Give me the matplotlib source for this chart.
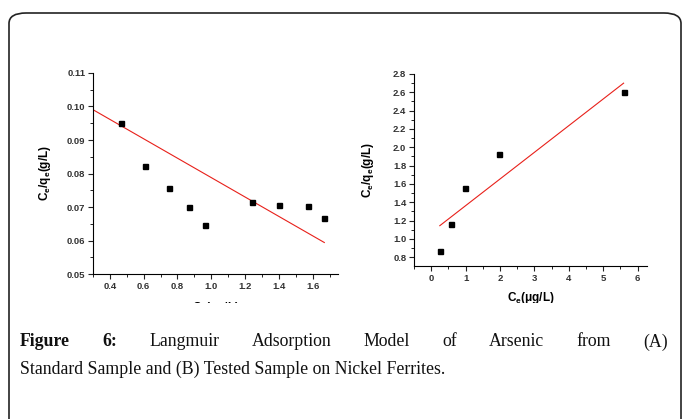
import numpy as np
import matplotlib
matplotlib.use('Agg')
import matplotlib.pyplot as plt
from matplotlib.patches import FancyBboxPatch, Rectangle
from matplotlib.ticker import MultipleLocator, FormatStrFormatter

# (A) standard sample
ce_a = [0.465, 0.608, 0.75, 0.869, 0.96, 1.24, 1.40, 1.574, 1.665]
ceqe_a = [0.0951, 0.0822, 0.0757, 0.0701, 0.0645, 0.0715, 0.0705, 0.0703, 0.0668]
fit_a_x = [0.305, 1.669]
fit_a_y = [0.0989, 0.0594]

# (B) tested sample
ce_b = [0.252, 0.573, 0.99, 1.96, 5.59]
ceqe_b = [0.873, 1.16, 1.56, 1.93, 2.60]
fit_b_x = [0.25, 5.59]
fit_b_y = [1.145, 2.70]

caption1 = ['Langmuir', 'Adsorption', 'Model', 'of', 'Arsenic', 'from', '(A)']
caption2 = 'Standard Sample and (B) Tested Sample on Nickel Ferrites.'

W, H = 683, 419
fig = plt.figure(figsize=(W/100, H/100), dpi=100)

tickfont = dict(family='Liberation Sans', weight='bold', size=6.8)
labfont = dict(family='Liberation Sans', weight='bold', size=8.5)
ylab = r'C$_\mathregular{e}$/q$_\mathregular{e}$(g/L)'
xlab = r'C$_\mathregular{e}$($\mathregular{\mu}$g/L)'

def style(ax):
    for s in ['top', 'right']:
        ax.spines[s].set_visible(False)
    for s in ['left', 'bottom']:
        ax.spines[s].set_linewidth(0.8)
    ax.tick_params(which='major', direction='out', length=3.5, width=0.8, pad=2, colors='#222')
    ax.tick_params(which='minor', direction='out', length=2, width=0.7, colors='#222')
    for lab in ax.get_xticklabels() + ax.get_yticklabels():
        lab.set_fontproperties(matplotlib.font_manager.FontProperties(**tickfont))
        lab.set_color('#333')

ax1 = fig.add_axes([93/W, 1-274/H, 245/W, 201/H])
ax1.plot(fit_a_x, fit_a_y, color='#e8201a', lw=0.8)
ax1.plot(ce_a, ceqe_a, 's', color='black', ms=3.6)
ax1.set_xlim(0.3, 1.75)
ax1.set_ylim(0.05, 0.11)
ax1.xaxis.set_major_locator(MultipleLocator(0.2))
ax1.xaxis.set_minor_locator(MultipleLocator(0.1))
ax1.yaxis.set_major_locator(MultipleLocator(0.01))
ax1.yaxis.set_minor_locator(MultipleLocator(0.005))
ax1.xaxis.set_major_formatter(FormatStrFormatter('%.1f'))
ax1.yaxis.set_major_formatter(FormatStrFormatter('%.2f'))
ax1.set_ylabel(ylab, labelpad=10, **labfont)
ax1.set_xlabel(xlab, labelpad=7, **labfont)
style(ax1)

ax2 = fig.add_axes([414/W, 1-266/H, 233/W, 192/H])
ax2.plot(fit_b_x, fit_b_y, color='#e8201a', lw=0.8)
ax2.plot(ce_b, ceqe_b, 's', color='black', ms=3.6)
ax2.set_xlim(-0.5, 6.27)
ax2.set_ylim(0.705, 2.8)
ax2.xaxis.set_major_locator(MultipleLocator(1))
ax2.xaxis.set_minor_locator(MultipleLocator(0.5))
ax2.yaxis.set_major_locator(MultipleLocator(0.2))
ax2.yaxis.set_minor_locator(MultipleLocator(0.1))
ax2.yaxis.set_major_formatter(FormatStrFormatter('%.1f'))
ax2.set_ylabel(ylab, labelpad=12, **labfont)
ax2.set_xlabel(xlab, labelpad=5, **labfont)
style(ax2)

# mask below the plots (cuts left x label like the original)
fig.patches.append(Rectangle((12/W, 0), 1, 1-303/H, transform=fig.transFigure,
                             facecolor='white', edgecolor='none', zorder=5))
# rounded frame
fig.patches.append(FancyBboxPatch((9/W, -0.1), (681-9)/W, 1.1-13/H,
                                  boxstyle='round,pad=0,rounding_size=0.025',
                                  transform=fig.transFigure, facecolor='none',
                                  edgecolor='#222', lw=1.2, zorder=6))

capfont = dict(family='Liberation Serif', size=12.8, color='#111')
r = fig.canvas.get_renderer()
words = [('Figure', 'bold'), ('6:', 'bold')] + [(w, 'normal') for w in caption1]
texts = [fig.text(0, 1-342/H, w, va='center', weight=wt, zorder=7, **capfont) for w, wt in words]
widths = [t.get_window_extent(r).width for t in texts]
x0, x1 = 20, 668
gap = (x1 - x0 - sum(widths)) / (len(texts) - 1)
x = x0
for t, w in zip(texts, widths):
    t.set_x(x / W)
    x += w + gap
fig.text(20/W, 1-369/H, caption2, va='center', zorder=7, **capfont)

plt.savefig('out.png', dpi=100)
